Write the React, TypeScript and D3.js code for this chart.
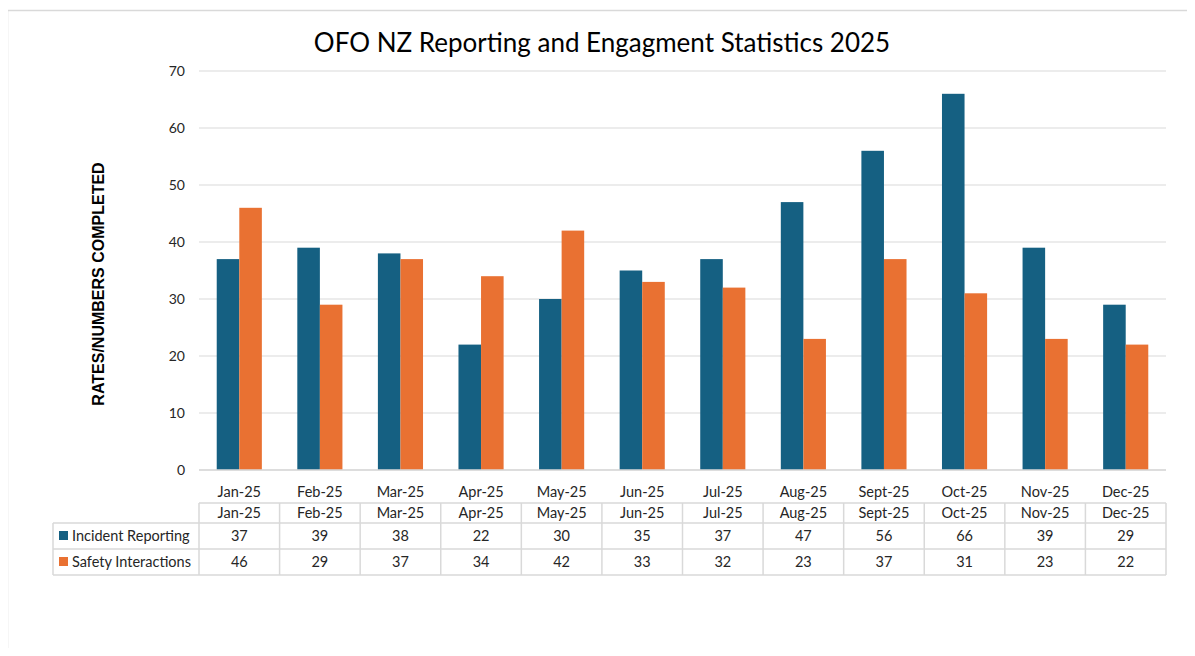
import { useRef, useEffect } from "react";
import * as d3 from "d3";

const months = ["Jan-25", "Feb-25", "Mar-25", "Apr-25", "May-25", "Jun-25", "Jul-25", "Aug-25", "Sept-25", "Oct-25", "Nov-25", "Dec-25"];
const incidentReporting = [37, 39, 38, 22, 30, 35, 37, 47, 56, 66, 39, 29];
const safetyInteractions = [46, 29, 37, 34, 42, 33, 32, 23, 37, 31, 23, 22];
const seriesNames = ["Incident Reporting", "Safety Interactions"];
const seriesColors = ["#156082", "#e97132"];
const yTicks = [0, 10, 20, 30, 40, 50, 60, 70];

const W = 1195;
const H = 656;

const App = () => {
  const svgRef = useRef<SVGSVGElement | null>(null);

  useEffect(() => {
    const svg = d3.select(svgRef.current);
    svg.selectAll("*").remove();

    const font = "Lato, 'Open Sans', sans-serif";
    const left = 199;
    const right = 1166;
    const top = 71;
    const bottom = 470;

    // outer frame
    svg
      .append("rect")
      .attr("x", 7.5)
      .attr("y", 10.5)
      .attr("width", W)
      .attr("height", H)
      .attr("fill", "white")
      .attr("stroke", "#d9d9d9")
      .attr("stroke-width", 1.5);

    svg
      .append("text")
      .attr("x", 602)
      .attr("y", 52)
      .attr("text-anchor", "middle")
      .style("font-family", font)
      .style("font-size", "26px")
      .attr("fill", "#000")
      .text("OFO NZ Reporting and Engagment Statistics 2025");

    const x = d3.scaleBand().domain(months).range([left, right]).paddingInner(0.44).paddingOuter(0.22);
    const inner = d3.scaleBand().domain(seriesNames).range([0, x.bandwidth()]);
    const y = d3.scaleLinear().domain([0, 70]).range([bottom, top]);
    const col = d3.scaleBand().domain(months).range([left, right]);

    const g = svg.append("g");

    g.selectAll("line.grid")
      .data(yTicks)
      .join("line")
      .attr("class", "grid")
      .attr("x1", left)
      .attr("x2", right)
      .attr("y1", (d) => y(d))
      .attr("y2", (d) => y(d))
      .attr("stroke", "#d9d9d9")
      .attr("stroke-width", 1);

    g.selectAll("text.tick")
      .data(yTicks)
      .join("text")
      .attr("class", "tick")
      .attr("x", 185)
      .attr("y", (d) => y(d) + 5)
      .attr("text-anchor", "end")
      .style("font-family", font)
      .style("font-size", "14px")
      .attr("fill", "#262626")
      .text((d) => d);

    const series = [incidentReporting, safetyInteractions];
    series.forEach((vals, si) => {
      g.selectAll(`rect.s${si}`)
        .data(vals)
        .join("rect")
        .attr("class", `s${si}`)
        .attr("x", (d, i) => (x(months[i]) as number) + (inner(seriesNames[si]) as number))
        .attr("width", inner.bandwidth())
        .attr("y", (d) => y(d))
        .attr("height", (d) => y(0) - y(d))
        .attr("fill", seriesColors[si]);
    });

    g.append("line")
      .attr("x1", left)
      .attr("x2", right)
      .attr("y1", bottom)
      .attr("y2", bottom)
      .attr("stroke", "#d9d9d9")
      .attr("stroke-width", 1.5);

    // category labels
    g.selectAll("text.cat")
      .data(months)
      .join("text")
      .attr("class", "cat")
      .attr("x", (d) => (col(d) as number) + col.bandwidth() / 2)
      .attr("y", 497)
      .attr("text-anchor", "middle")
      .style("font-family", font)
      .style("font-size", "14.5px")
      .attr("fill", "#262626")
      .text((d) => d);

    // y axis title
    svg
      .append("text")
      .attr("transform", `translate(104,${284}) rotate(-90)`)
      .attr("text-anchor", "middle")
      .style("font-family", "'Liberation Sans', Arial, sans-serif")
      .style("font-weight", "bold")
      .style("font-size", "16px")
      .attr("fill", "#000")
      .text("RATES/NUMBERS COMPLETED");

    // data table
    const rowTop = [503, 523, 549];
    const rowH = [20, 26, 26];
    const tableBottom = 575;
    const legendLeft = 53;
    const lineColor = "#d9d9d9";
    const t = svg.append("g");

    // horizontal lines
    t.append("line").attr("x1", left).attr("x2", right).attr("y1", rowTop[0]).attr("y2", rowTop[0]);
    [rowTop[1], rowTop[2], tableBottom].forEach((yy) => {
      t.append("line").attr("x1", legendLeft).attr("x2", right).attr("y1", yy).attr("y2", yy);
    });
    // vertical lines
    months.forEach((m) => {
      const xx = col(m) as number;
      t.append("line").attr("x1", xx).attr("x2", xx).attr("y1", rowTop[0]).attr("y2", tableBottom);
    });
    t.append("line").attr("x1", right).attr("x2", right).attr("y1", rowTop[0]).attr("y2", tableBottom);
    t.append("line").attr("x1", legendLeft).attr("x2", legendLeft).attr("y1", rowTop[1]).attr("y2", tableBottom);
    t.selectAll("line").attr("stroke", lineColor).attr("stroke-width", 1.5);

    const cellText = (sel: any) =>
      sel
        .attr("text-anchor", "middle")
        .style("font-family", font)
        .style("font-size", "14.5px")
        .attr("fill", "#262626");

    t.selectAll("text.hdr")
      .data(months)
      .join("text")
      .attr("class", "hdr")
      .attr("x", (d) => (col(d) as number) + col.bandwidth() / 2)
      .attr("y", rowTop[0] + 15)
      .call(cellText)
      .text((d) => d);

    series.forEach((vals, si) => {
      const ry = rowTop[si + 1] + rowH[si + 1] / 2 + 5;
      t.selectAll(`text.v${si}`)
        .data(vals)
        .join("text")
        .attr("class", `v${si}`)
        .attr("x", (d, i) => (col(months[i]) as number) + col.bandwidth() / 2)
        .attr("y", ry)
        .call(cellText)
        .text((d) => d);

      t.append("rect")
        .attr("x", 59)
        .attr("y", ry - 10)
        .attr("width", 9)
        .attr("height", 9)
        .attr("fill", seriesColors[si]);

      t.append("text")
        .attr("x", 72)
        .attr("y", ry)
        .style("font-family", font)
        .style("font-size", "14.5px")
        .attr("fill", "#262626")
        .text(seriesNames[si]);
    });
  }, []);

  return (
    <div style={{ width: W, height: H, margin: "-8px", overflow: "hidden" }}>
      <svg ref={svgRef} width={W} height={H} style={{ display: "block", background: "white" }} />
    </div>
  );
};

export default App;
